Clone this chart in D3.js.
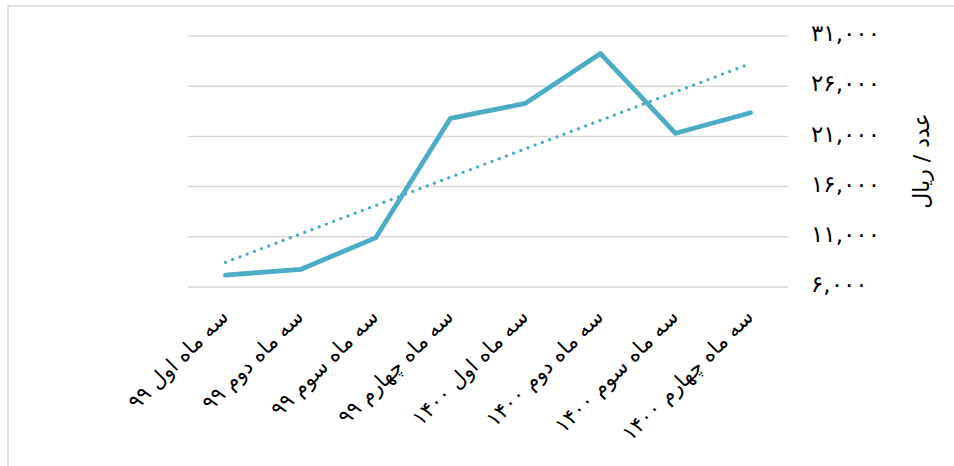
<!DOCTYPE html>
<html><head><meta charset="utf-8">
<script src="https://cdn.jsdelivr.net/npm/d3@7"></script>
<style>
html,body{margin:0;padding:0;background:#fff;}
svg{display:block;font-family:"DejaVu Sans",sans-serif;}
</style></head>
<body>
<svg id="chart" width="954" height="466"></svg>
<script>
const categories = ["سه ماه اول ۹۹","سه ماه دوم ۹۹","سه ماه سوم ۹۹","سه ماه چهارم ۹۹","سه ماه اول ۱۴۰۰","سه ماه دوم ۱۴۰۰","سه ماه سوم ۱۴۰۰","سه ماه چهارم ۱۴۰۰"];
const values = [7190, 7750, 10890, 22800, 24290, 29250, 21310, 23360];
const yTicks = [6000, 11000, 16000, 21000, 26000, 31000];
const yTickLabels = ["۶,۰۰۰","۱۱,۰۰۰","۱۶,۰۰۰","۲۱,۰۰۰","۲۶,۰۰۰","۳۱,۰۰۰"];
const yTitle = "عدد / ریال";

(function () {
const svg = d3.select("#chart");
const W = 954, H = 466;
const pLeft = 188, pRight = 788, pTop = 36, pBottom = 287;
const color = "#4BACC6";

// outer border
svg.append("rect").attr("x", 8).attr("y", 6).attr("width", W + 20).attr("height", H + 20)
  .attr("fill", "none").attr("stroke", "#d9d9d9").attr("stroke-width", 1.5);

const x = d3.scaleBand().domain(categories).range([pLeft, pRight]);
const y = d3.scaleLinear().domain([6000, 31000]).range([pBottom, pTop]);

// gridlines
svg.append("g").selectAll("line").data(yTicks).join("line")
  .attr("x1", pLeft).attr("x2", pRight)
  .attr("y1", d => y(d)).attr("y2", d => y(d))
  .attr("stroke", "#d9d9d9").attr("stroke-width", 1.5);

// y axis labels (right side)
const yAxis = d3.axisRight(y).tickValues(yTicks)
  .tickFormat((d, i) => yTickLabels[i]).tickSize(0).tickPadding(0);
const gy = svg.append("g").attr("transform", `translate(811,0)`).call(yAxis);
gy.select(".domain").remove();
gy.selectAll("text").attr("font-size", 23).attr("fill", "#000")
  .attr("font-family", "DejaVu Sans").attr("letter-spacing", 1.5).attr("dy", "0.2em");

// y title
svg.append("text").attr("transform", "translate(929,161) rotate(-90)")
  .attr("text-anchor", "middle").attr("font-size", 22).attr("fill", "#000")
  .text(yTitle);

// x labels
const cx = d => x(d) + x.bandwidth() / 2;
svg.append("g").selectAll("text").data(categories).join("text")
  .attr("transform", d => `translate(${cx(d) + 4},${318}) rotate(-45)`)
  .attr("text-anchor", "end").attr("font-size", 21).attr("fill", "#000")
  .text(d => d);

// trendline (linear least squares)
const n = values.length;
const xs = d3.range(n);
const mx = d3.mean(xs), my = d3.mean(values);
const slope = d3.sum(xs, i => (i - mx) * (values[i] - my)) / d3.sum(xs, i => (i - mx) ** 2);
const intercept = my - slope * mx;
const trend = xs.map(i => intercept + slope * i);

svg.append("path").datum(trend)
  .attr("d", d3.line().x((d, i) => cx(categories[i])).y(d => y(d)))
  .attr("fill", "none").attr("stroke", color).attr("stroke-width", 3.2)
  .attr("stroke-linecap", "round").attr("stroke-dasharray", "0.1 7.6");

// main line
svg.append("path").datum(values)
  .attr("d", d3.line().x((d, i) => cx(categories[i])).y(d => y(d)))
  .attr("fill", "none").attr("stroke", color).attr("stroke-width", 4.8)
  .attr("stroke-linecap", "round").attr("stroke-linejoin", "round");
})();
</script>
</body></html>
